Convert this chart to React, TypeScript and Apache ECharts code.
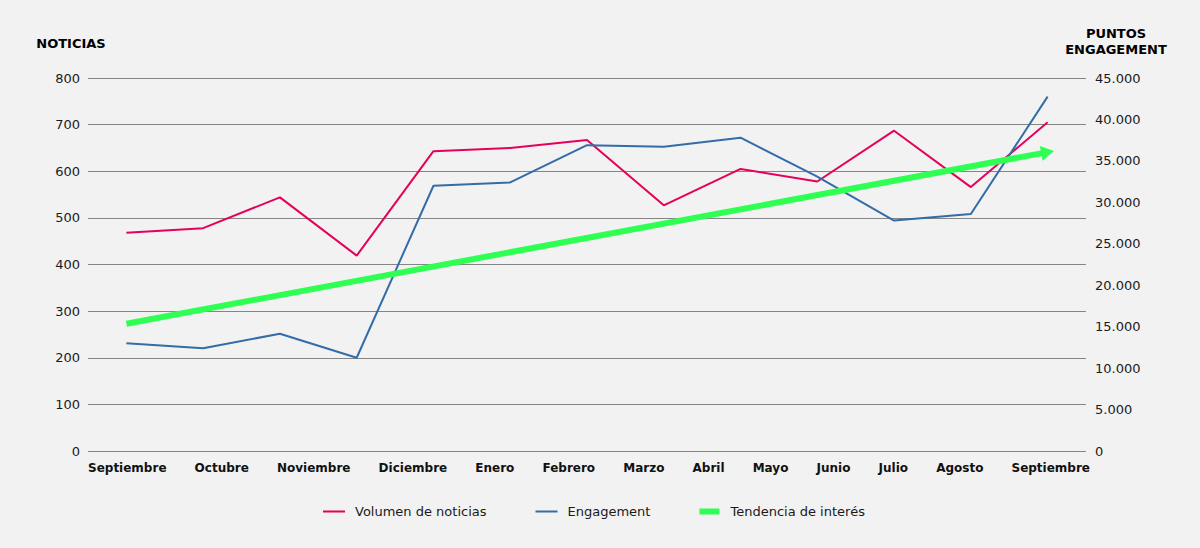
import React, { useEffect, useRef } from "react";
import * as echarts from "echarts";

const categories = [
  "Septiembre", "Octubre", "Noviembre", "Diciembre", "Enero", "Febrero", "Marzo",
  "Abril", "Mayo", "Junio", "Julio", "Agosto", "Septiembre",
];
const noticias = [468, 478, 544, 419, 643, 650, 667, 527, 605, 578, 687, 566, 705];
const engagement = [13000, 12400, 14150, 11250, 32000, 32400, 36900, 36700, 37800, 33100, 27800, 28600, 42750];
// trend line: start (first month) and end (last month), in "noticias" units
const trendStart = 273;
const trendEnd = 641;

const leftTicks = { min: 0, max: 800, interval: 100 };
const rightTicks = { min: 0, max: 45000, interval: 5000 };

const RED = "#E5005A";
const BLUE = "#336CA6";
const GREEN = "#2EFF52";
const FONT = "DejaVu Sans, Verdana, sans-serif";

const GRID_LEFT = 88;
const GRID_RIGHT_X = 1086;
const CAT_FONT = "bold 12px 'DejaVu Sans'";
// category labels are laid out like the original: evenly gapped, spanning this range
const LABEL_SPAN = [88, 1090];

const fmt = (v: number) => String(v).replace(/\B(?=(\d{3})+(?!\d))/g, ".");

function categoryData() {
  const canvas = document.createElement("canvas");
  const ctx = canvas.getContext("2d")!;
  ctx.font = CAT_FONT;
  const widths = categories.map((c) => ctx.measureText(c).width);
  const total = widths.reduce((a, b) => a + b, 0);
  const gap = (LABEL_SPAN[1] - LABEL_SPAN[0] - total) / (categories.length - 1);
  const band = (GRID_RIGHT_X - GRID_LEFT) / categories.length;
  let x = LABEL_SPAN[0];
  return categories.map((c, i) => {
    const desired = x + widths[i] / 2;
    x += widths[i] + gap;
    const center = GRID_LEFT + band * (i + 0.5);
    const off = desired - center;
    const padding = off >= 0 ? [0, 0, 0, 2 * off] : [0, -2 * off, 0, 0];
    return { value: c, textStyle: { padding } };
  });
}

export default function App() {
  const ref = useRef<HTMLDivElement>(null);
  useEffect(() => {
    const chart = echarts.init(ref.current!, null, { renderer: "svg" });
    chart.setOption({
      animation: false,
      backgroundColor: "#F2F2F2",
      textStyle: { fontFamily: FONT },
      grid: { left: GRID_LEFT, right: 1200 - GRID_RIGHT_X, top: 78, bottom: 97, containLabel: false },
      legend: {
        left: 323,
        top: 505,
        padding: 0,
        itemWidth: 22,
        itemHeight: 6,
        itemGap: 49,
        textStyle: { fontFamily: FONT, fontSize: 13, color: "#1a1a1a", padding: [0, 0, 0, 5] },
        data: [
          { name: "Volumen de noticias", icon: "path://M0,0H22V2H0Z" },
          { name: "Engagement", icon: "path://M0,0H22V2H0Z" },
          { name: "Tendencia de interés", icon: "path://M0,0H20V6H0Z" },
        ],
      },
      xAxis: {
        type: "category",
        data: categoryData(),
        boundaryGap: true,
        axisLine: { show: false },
        axisTick: { show: false },
        axisLabel: {
          interval: 0,
          margin: 11,
          fontFamily: FONT,
          fontSize: 12,
          fontWeight: "bold",
          color: "#111",
        },
      },
      yAxis: [
        {
          type: "value",
          ...leftTicks,
          name: "NOTICIAS",
          nameLocation: "end",
          nameGap: 28,
          nameTextStyle: {
            fontFamily: FONT,
            fontSize: 13,
            fontWeight: "bold",
            color: "#000",
            align: "center",
            padding: [0, 34, 0, 0],
          },
          axisLine: { show: false },
          axisTick: { show: false },
          axisLabel: { margin: 8, fontFamily: FONT, fontSize: 13, color: "#1a1a1a" },
          splitLine: { show: true, lineStyle: { color: "#858585", width: 1 } },
        },
        {
          type: "value",
          ...rightTicks,
          position: "right",
          name: "PUNTOS\nENGAGEMENT",
          nameLocation: "end",
          nameGap: 21,
          nameTextStyle: {
            fontFamily: FONT,
            fontSize: 13,
            fontWeight: "bold",
            color: "#000",
            align: "center",
            lineHeight: 16,
            padding: [0, 0, 0, 60],
          },
          axisLine: { show: false },
          axisTick: { show: false },
          axisLabel: {
            margin: 9,
            fontFamily: FONT,
            fontSize: 13,
            color: "#1a1a1a",
            formatter: (v: number) => fmt(v),
          },
          splitLine: { show: false },
        },
      ],
      series: [
        {
          name: "Volumen de noticias",
          type: "line",
          yAxisIndex: 0,
          data: noticias,
          symbol: "none",
          color: RED,
          lineStyle: { color: RED, width: 2 },
          z: 3,
        },
        {
          name: "Engagement",
          type: "line",
          yAxisIndex: 1,
          data: engagement,
          symbol: "none",
          color: BLUE,
          lineStyle: { color: BLUE, width: 2 },
          z: 3,
        },
        {
          name: "Tendencia de interés",
          type: "line",
          yAxisIndex: 0,
          data: [],
          color: GREEN,
          itemStyle: { color: GREEN },
          z: 2,
          markLine: {
            silent: true,
            animation: false,
            symbol: ["none", "triangle"],
            symbolSize: [15, 13],
            label: { show: false },
            emphasis: { disabled: true },
            lineStyle: { color: GREEN, width: 6, type: "solid" },
            itemStyle: { color: GREEN },
            data: [[{ coord: [0, trendStart] }, { coord: [categories.length - 1, trendEnd] }]],
          },
        },
      ],
    });
    return () => chart.dispose();
  }, []);
  return (
    <div
      ref={ref}
      style={{ position: "fixed", left: 0, top: 0, width: 1200, height: 548, background: "#F2F2F2" }}
    />
  );
}
